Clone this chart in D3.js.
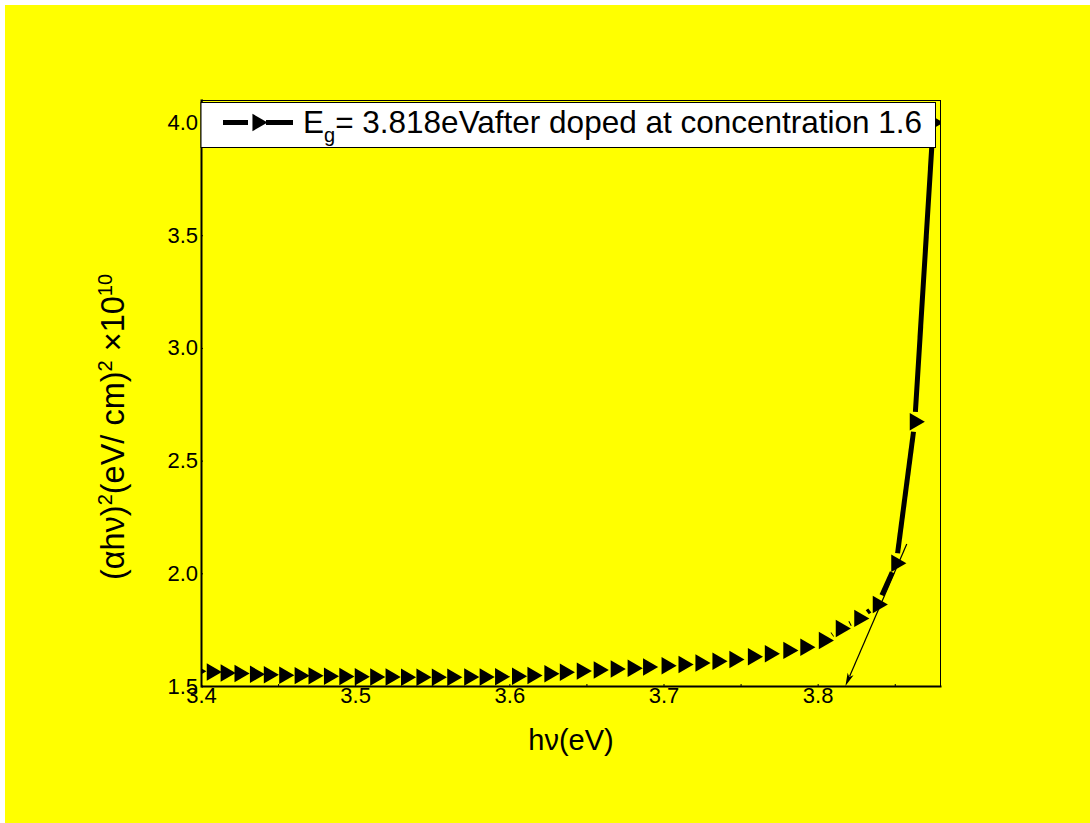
<!DOCTYPE html>
<html>
<head>
<meta charset="utf-8">
<script src="https://cdn.jsdelivr.net/npm/d3@7"></script>
<style>
  html, body { margin: 0; padding: 0; background: #ffffff; }
  svg { display: block; }
  text { font-family: "Liberation Sans", Arial, Helvetica, sans-serif; fill: #000; }
</style>
</head>
<body>
<svg id="chart" width="1090" height="823"></svg>
<script>
// ---- data ----
const hv = [3.397, 3.407, 3.416, 3.425, 3.435, 3.444, 3.454, 3.464, 3.473, 3.483,
            3.493, 3.503, 3.513, 3.523, 3.533, 3.543, 3.553, 3.563, 3.574, 3.584,
            3.594, 3.605, 3.615, 3.626, 3.636, 3.647, 3.658, 3.669, 3.680, 3.690,
            3.702, 3.713, 3.724, 3.735, 3.746, 3.758, 3.769, 3.781, 3.792, 3.804,
            3.815, 3.827, 3.839, 3.851, 3.863, 3.875];
const ahv2 = [1.565, 1.562, 1.558, 1.555, 1.552, 1.550, 1.548, 1.546, 1.545, 1.543,
              1.542, 1.541, 1.540, 1.540, 1.539, 1.539, 1.539, 1.539, 1.540, 1.540,
              1.541, 1.543, 1.547, 1.554, 1.561, 1.566, 1.571, 1.575, 1.579, 1.584,
              1.590, 1.595, 1.602, 1.610, 1.618, 1.630, 1.643, 1.658, 1.672, 1.702,
              1.755, 1.800, 1.862, 2.045, 2.672, 4.000];
const xTicks = [3.4, 3.5, 3.6, 3.7, 3.8];
const xTickLabels = ["3.4", "3.5", "3.6", "3.7", "3.8"];
const yTicks = [1.5, 2.0, 2.5, 3.0, 3.5, 4.0];
const yTickLabels = ["1.5", "2.0", "2.5", "3.0", "3.5", "4.0"];
const xDomain = [3.4, 3.88];
const yDomain = [1.5, 4.1];
// tangent (extrapolation) line: from point on the steep part down to Eg on the axis
const tangentX = [3.8578, 3.818];
const tangentY = [2.13, 1.5];
const legendLabel = { main: "E", sub: "g", rest: "= 3.818eVafter doped at concentration 1.6" };

// ---- layout ----
const W = 1090, H = 823;
const L = 201, R = 941, T = 100, B = 686;
const svg = d3.select("#chart");

svg.append("rect").attr("x", 5).attr("y", 5).attr("width", W - 5).attr("height", H - 5)
   .attr("fill", "#ffff00");

const x = d3.scaleLinear().domain(xDomain).range([L, R]);
const y = d3.scaleLinear().domain(yDomain).range([B, T]);

svg.append("clipPath").attr("id", "plotclip")
   .append("rect").attr("x", L).attr("y", T).attr("width", R - L).attr("height", B - T);

// frame (top/right thin)
svg.append("line").attr("x1", L).attr("x2", R).attr("y1", T + 0.5).attr("y2", T + 0.5)
   .attr("stroke", "#000").attr("stroke-width", 1);
svg.append("line").attr("x1", R - 0.5).attr("x2", R - 0.5).attr("y1", T).attr("y2", B)
   .attr("stroke", "#000").attr("stroke-width", 1);

// axes
const fmtX = (d) => xTickLabels[xTicks.indexOf(d)];
const fmtY = (d) => yTickLabels[yTicks.indexOf(d)];
const xMinor = d3.range(0, 10).map(i => 3.4 + i * 0.05).filter(v => v < 3.88);
const gxMinor = svg.append("g").attr("transform", `translate(0,${B})`)
   .call(d3.axisBottom(x).tickValues(xMinor).tickSize(-2).tickFormat(""));
gxMinor.select(".domain").remove();
const gx = svg.append("g").attr("transform", `translate(0,${B})`)
   .call(d3.axisBottom(x).tickValues(xTicks).tickSize(0).tickPadding(1).tickFormat(fmtX));
gx.select(".domain").attr("stroke-width", 2);
gx.selectAll("text").attr("font-size", 22).attr("font-family", "Liberation Sans, Arial, sans-serif");

const gy = svg.append("g").attr("transform", `translate(${L},0)`)
   .call(d3.axisLeft(y).tickValues(yTicks).tickSize(-2).tickPadding(3).tickFormat(fmtY));
gy.select(".domain").attr("stroke-width", 2);
gy.selectAll("text").attr("font-size", 22).attr("font-family", "Liberation Sans, Arial, sans-serif");

// ---- data series: Origin-style line with gaps at symbols ----
const pts = hv.map((v, i) => [x(v), y(ahv2[i])]);
const gap = 10;
const plot = svg.append("g").attr("clip-path", "url(#plotclip)");
const segs = [];
for (let i = 0; i < pts.length - 1; i++) {
  const [x1, y1] = pts[i], [x2, y2] = pts[i + 1];
  const dx = x2 - x1, dy = y2 - y1, len = Math.hypot(dx, dy);
  if (len > 2 * gap) {
    const ux = dx / len, uy = dy / len;
    segs.push([x1 + ux * gap, y1 + uy * gap, x2 - ux * gap, y2 - uy * gap]);
  }
}
plot.selectAll("line.seg").data(segs).enter().append("line").attr("class", "seg")
   .attr("x1", d => d[0]).attr("y1", d => d[1]).attr("x2", d => d[2]).attr("y2", d => d[3])
   .attr("stroke", "#000").attr("stroke-width", 5);

const tri = d3.symbol().type(d3.symbolTriangle).size(132);
plot.selectAll("path.mk").data(pts).enter().append("path").attr("class", "mk")
   .attr("d", tri)
   .attr("transform", d => `translate(${d[0]},${d[1]}) rotate(90)`)
   .attr("fill", "#000");

// tangent line with arrow head
const tx1 = x(tangentX[0]), ty1 = y(tangentY[0]), tx2 = x(tangentX[1]), ty2 = y(tangentY[1]);
const tl = Math.hypot(tx2 - tx1, ty2 - ty1), ux = (tx2 - tx1) / tl, uy = (ty2 - ty1) / tl;
const headL = 13, headW = 3.2;
svg.append("line").attr("x1", tx1).attr("y1", ty1)
   .attr("x2", tx2 - ux * headL * 0.8).attr("y2", ty2 - uy * headL * 0.8)
   .attr("stroke", "#000").attr("stroke-width", 1.2);
const bx = tx2 - ux * headL, by = ty2 - uy * headL;
svg.append("path")
   .attr("d", `M${tx2},${ty2}L${bx - uy * headW},${by + ux * headW}L${tx2 - ux * headL * 0.75},${ty2 - uy * headL * 0.75}L${bx + uy * headW},${by - ux * headW}Z`)
   .attr("fill", "#000");

// ---- legend ----
const lg = svg.append("g");
lg.append("rect").attr("x", L).attr("y", 102.5).attr("width", 935.5 - L).attr("height", 45)
  .attr("fill", "#fff").attr("stroke", "#000").attr("stroke-width", 1);
lg.append("line").attr("x1", 223).attr("x2", 248).attr("y1", 122.5).attr("y2", 122.5)
  .attr("stroke", "#000").attr("stroke-width", 5);
lg.append("line").attr("x1", 266).attr("x2", 293).attr("y1", 122.5).attr("y2", 122.5)
  .attr("stroke", "#000").attr("stroke-width", 5);
lg.append("path").attr("d", tri).attr("transform", "translate(257.5,122.5) rotate(90)").attr("fill", "#000");
const lt = lg.append("text").attr("x", 303).attr("y", 133).attr("font-size", 31.5);
lt.append("tspan").text(legendLabel.main);
lt.append("tspan").attr("font-size", 20).attr("dy", 9).text(legendLabel.sub);
lt.append("tspan").attr("dy", -9).text(legendLabel.rest);

// ---- axis titles ----
svg.append("text").attr("x", 571).attr("y", 750).attr("text-anchor", "middle")
   .attr("font-size", 29).text("hν(eV)");

const yt = svg.append("text").attr("transform", "translate(124,427) rotate(-90)")
   .attr("text-anchor", "middle").attr("font-size", 32.5);
yt.append("tspan").text("(αhν)");
yt.append("tspan").attr("font-size", 20).attr("dy", -12).text("2");
yt.append("tspan").attr("dy", 12).text("(eV/ cm)");
yt.append("tspan").attr("font-size", 20).attr("dy", -12).text("2");
yt.append("tspan").attr("dy", 12).text(" ×10");
yt.append("tspan").attr("font-size", 20).attr("dy", -12).text("10");
</script>
</body>
</html>
